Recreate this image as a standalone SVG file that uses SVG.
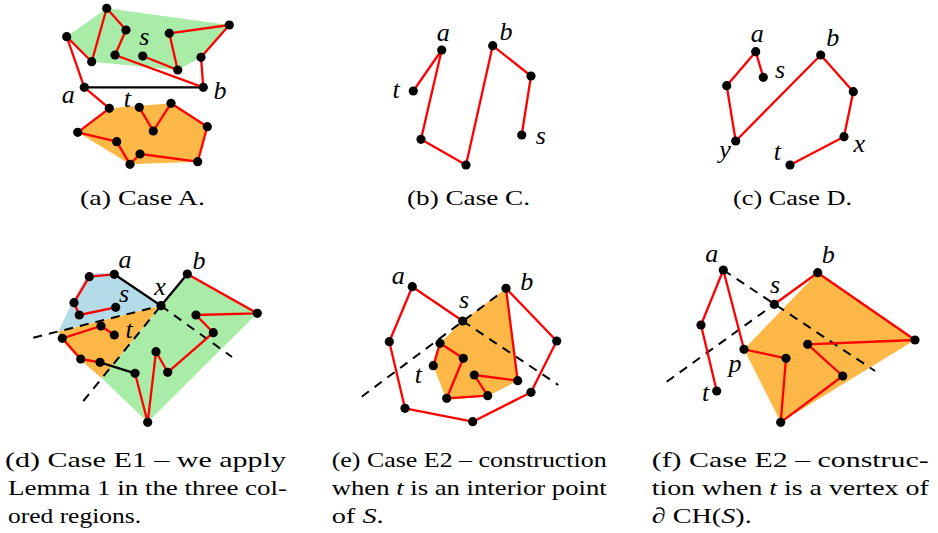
<svg xmlns="http://www.w3.org/2000/svg" width="938" height="533" viewBox="0 0 938 533">
<style>
.r{stroke:#ff0000;stroke-width:2.3;fill:none;stroke-linejoin:round;stroke-linecap:round}
.k{stroke:#000;stroke-width:2.3;fill:none}
.d{stroke:#000;stroke-width:2;stroke-dasharray:9 7;fill:none}
.v{fill:#000}
.g{fill:#a8eca8}
.o{fill:#feb847}
.b{fill:#b4dbe8}
.lbl{font-family:"Liberation Serif",serif;font-style:italic;font-size:26px;text-anchor:middle}
.cap{font-family:"Liberation Serif",serif;font-size:22px}
.it{font-style:italic}
</style>
<rect width="938" height="533" fill="#fff"/>

<!-- Panel (a) -->
<g id="panel-a">
  <g id="a-regions">
    <polygon class="g" points="66.7,36.7 106.7,8.3 229.3,25 201,57.3 177.7,70 91.7,61.7"/>
    <polygon class="o" points="109.3,108.3 171,103.3 207.3,126.7 197.7,161.7 130,164.3 77.7,132.3"/>
  </g>
  <g id="a-connectors">
    <line class="k" x1="84.3" y1="87.3" x2="203.3" y2="87.3"/>
    <polyline class="r" points="142.7,56 177.7,70 169.3,33.3 229.3,25 201,57.3 203.3,87.3 115,55 126,30 106.7,8.3 91.7,61.7 66.7,36.7 84.3,87.3"/>
    <polyline class="r" points="84.3,87.3 109.3,108.3 77.7,132.3 116.7,141.7 130,164.3 140,154 197.7,161.7 207.3,126.7 171,103.3 153.3,131 139.3,107.3"/>
  </g>
  <g id="a-nodes">
    <circle class="v" r="4.6" cx="66.7" cy="36.7"/><circle class="v" r="4.6" cx="106.7" cy="8.3"/>
    <circle class="v" r="4.6" cx="126" cy="30"/><circle class="v" r="4.6" cx="115" cy="55"/>
    <circle class="v" r="4.6" cx="91.7" cy="61.7"/><circle class="v" r="4.6" cx="142.7" cy="56"/>
    <circle class="v" r="4.6" cx="177.7" cy="70"/><circle class="v" r="4.6" cx="169.3" cy="33.3"/>
    <circle class="v" r="4.6" cx="229.3" cy="25"/><circle class="v" r="4.6" cx="201" cy="57.3"/>
    <circle class="v" r="4.6" cx="203.3" cy="87.3"/><circle class="v" r="4.6" cx="84.3" cy="87.3"/>
    <circle class="v" r="4.6" cx="109.3" cy="108.3"/><circle class="v" r="4.6" cx="77.7" cy="132.3"/>
    <circle class="v" r="4.6" cx="116.7" cy="141.7"/><circle class="v" r="4.6" cx="130" cy="164.3"/>
    <circle class="v" r="4.6" cx="140" cy="154"/><circle class="v" r="4.6" cx="197.7" cy="161.7"/>
    <circle class="v" r="4.6" cx="207.3" cy="126.7"/><circle class="v" r="4.6" cx="171" cy="103.3"/>
    <circle class="v" r="4.6" cx="153.3" cy="131"/><circle class="v" r="4.6" cx="139.3" cy="107.3"/>
  </g>
  <g id="a-labels">
    <text class="lbl" x="144.3" y="45">s</text>
    <text class="lbl" x="68.3" y="103.3">a</text>
    <text class="lbl" x="220" y="99.3">b</text>
    <text class="lbl" x="127.3" y="107.3">t</text>
  </g>
  <text class="cap" x="80" y="205" textLength="125" lengthAdjust="spacingAndGlyphs">(a) Case A.</text>
</g>

<!-- Panel (b) -->
<g id="panel-b">
  <g id="b-connectors">
    <polyline class="r" points="413.3,91 441.7,50 421,139.3 466,165 492.7,45.7 531,76 521.7,135"/>
  </g>
  <g id="b-nodes">
    <circle class="v" r="4.6" cx="413.3" cy="91"/><circle class="v" r="4.6" cx="441.7" cy="50"/>
    <circle class="v" r="4.6" cx="421" cy="139.3"/><circle class="v" r="4.6" cx="466" cy="165"/>
    <circle class="v" r="4.6" cx="492.7" cy="45.7"/><circle class="v" r="4.6" cx="531" cy="76"/>
    <circle class="v" r="4.6" cx="521.7" cy="135"/>
  </g>
  <g id="b-labels">
    <text class="lbl" x="443.3" y="41">a</text>
    <text class="lbl" x="506" y="40">b</text>
    <text class="lbl" x="396" y="97.7">t</text>
    <text class="lbl" x="540.7" y="144.3">s</text>
  </g>
  <text class="cap" x="407" y="205" textLength="123" lengthAdjust="spacingAndGlyphs">(b) Case C.</text>
</g>

<!-- Panel (c) -->
<g id="panel-c">
  <g id="c-connectors">
    <polyline class="r" points="763.3,77.3 755.7,51.7 726.7,85.7 735.7,141 820.7,55 853.3,91.7 844,136.7 790,165"/>
  </g>
  <g id="c-nodes">
    <circle class="v" r="4.6" cx="763.3" cy="77.3"/><circle class="v" r="4.6" cx="755.7" cy="51.7"/>
    <circle class="v" r="4.6" cx="726.7" cy="85.7"/><circle class="v" r="4.6" cx="735.7" cy="141"/>
    <circle class="v" r="4.6" cx="820.7" cy="55"/><circle class="v" r="4.6" cx="853.3" cy="91.7"/>
    <circle class="v" r="4.6" cx="844" cy="136.7"/><circle class="v" r="4.6" cx="790" cy="165"/>
  </g>
  <g id="c-labels">
    <text class="lbl" x="757.3" y="41.7">a</text>
    <text class="lbl" x="780" y="78.3">s</text>
    <text class="lbl" x="832.7" y="45.7">b</text>
    <text class="lbl" x="725" y="158.3">y</text>
    <text class="lbl" x="777.3" y="160">t</text>
    <text class="lbl" x="859.3" y="151.7">x</text>
  </g>
  <text class="cap" x="733" y="205" textLength="119" lengthAdjust="spacingAndGlyphs">(c) Case D.</text>
</g>

<!-- Panel (d) -->
<g id="panel-d">
  <g id="d-regions">
    <polygon class="b" points="58.3,331.4 71.7,303.3 88.3,273.3 115,273.3 161,305.7"/>
    <polygon class="o" points="58.3,331.4 161,305.7 101.8,378.3 78.3,358.3 61.7,340"/>
    <polygon class="g" points="161,305.7 187.3,273.3 257.3,313.3 147.7,422.3 101.8,378.3"/>
  </g>
  <g id="d-connectors">
    <line class="d" x1="33.3" y1="337.7" x2="161" y2="305.7"/>
    <line class="d" x1="83.3" y1="401" x2="161" y2="305.7"/>
    <line class="d" x1="161" y1="305.7" x2="232" y2="357"/>
    <polyline class="r" points="115.7,307.3 79.3,315 74,302.7 89.3,276.7 114.3,274.3"/>
    <polyline class="k" points="114.3,274.3 161,305.7 187.3,274"/>
    <polyline class="r" points="187.3,274 257.3,313.3 196,315 213.3,332.7 167.7,372.3 156,351.7 147.7,422.3 135,373.3"/>
    <line class="k" x1="135" y1="373.3" x2="100" y2="362.3"/>
    <polyline class="r" points="100,362.3 80.7,359 62.3,338.3 101,326 114.3,335"/>
  </g>
  <g id="d-nodes">
    <circle class="v" r="4.6" cx="115.7" cy="307.3"/><circle class="v" r="4.6" cx="79.3" cy="315"/>
    <circle class="v" r="4.6" cx="74" cy="302.7"/><circle class="v" r="4.6" cx="89.3" cy="276.7"/>
    <circle class="v" r="4.6" cx="114.3" cy="274.3"/><circle class="v" r="4.6" cx="161" cy="305.7"/>
    <circle class="v" r="4.6" cx="187.3" cy="274"/><circle class="v" r="4.6" cx="257.3" cy="313.3"/>
    <circle class="v" r="4.6" cx="196" cy="315"/><circle class="v" r="4.6" cx="213.3" cy="332.7"/>
    <circle class="v" r="4.6" cx="167.7" cy="372.3"/><circle class="v" r="4.6" cx="156" cy="351.7"/>
    <circle class="v" r="4.6" cx="147.7" cy="422.3"/><circle class="v" r="4.6" cx="135" cy="373.3"/>
    <circle class="v" r="4.6" cx="100" cy="362.3"/><circle class="v" r="4.6" cx="80.7" cy="359"/>
    <circle class="v" r="4.6" cx="62.3" cy="338.3"/><circle class="v" r="4.6" cx="101" cy="326"/>
    <circle class="v" r="4.6" cx="114.3" cy="335"/>
  </g>
  <g id="d-labels">
    <text class="lbl" x="125" y="268.3">a</text>
    <text class="lbl" x="199" y="269">b</text>
    <text class="lbl" x="160" y="295">x</text>
    <text class="lbl" x="124" y="301.7">s</text>
    <text class="lbl" x="129" y="337.7">t</text>
  </g>
  <text class="cap" x="5" y="467" textLength="281" lengthAdjust="spacingAndGlyphs">(d) Case E1 – we apply</text>
  <text class="cap" x="8" y="495" textLength="279" lengthAdjust="spacingAndGlyphs">Lemma 1 in the three col-</text>
  <text class="cap" x="8" y="523" textLength="133" lengthAdjust="spacingAndGlyphs">ored regions.</text>
</g>

<!-- Panel (e) -->
<g id="panel-e">
  <g id="e-regions">
    <polygon class="o" points="462.7,321 506,288.3 517.7,380.7 488,396 446.7,400 433.3,365.7 440,343.3"/>
  </g>
  <g id="e-connectors">
    <line class="d" x1="361.7" y1="396.7" x2="502" y2="292"/>
    <line class="d" x1="462.7" y1="321" x2="558.3" y2="385"/>
    <polyline class="r" points="462.7,321 412.3,286.7 389.3,341.7 405,408.3 472.7,421.7 531,392.3 556.7,341 506,288.3 517.7,380.7 474.3,375 487.7,395.7 446.7,398.3 463.3,358.3 440,343.3 433.3,365.7"/>
  </g>
  <g id="e-nodes">
    <circle class="v" r="4.6" cx="412.3" cy="286.7"/><circle class="v" r="4.6" cx="462.7" cy="321"/>
    <circle class="v" r="4.6" cx="506" cy="288.3"/><circle class="v" r="4.6" cx="556.7" cy="341"/>
    <circle class="v" r="4.6" cx="531" cy="392.3"/><circle class="v" r="4.6" cx="472.7" cy="421.7"/>
    <circle class="v" r="4.6" cx="405" cy="408.3"/><circle class="v" r="4.6" cx="389.3" cy="341.7"/>
    <circle class="v" r="4.6" cx="440" cy="343.3"/><circle class="v" r="4.6" cx="463.3" cy="358.3"/>
    <circle class="v" r="4.6" cx="433.3" cy="365.7"/><circle class="v" r="4.6" cx="446.7" cy="398.3"/>
    <circle class="v" r="4.6" cx="487.7" cy="395.7"/><circle class="v" r="4.6" cx="474.3" cy="375"/>
    <circle class="v" r="4.6" cx="517.7" cy="380.7"/>
  </g>
  <g id="e-labels">
    <text class="lbl" x="398.3" y="284.3">a</text>
    <text class="lbl" x="526.7" y="290">b</text>
    <text class="lbl" x="464" y="308.3">s</text>
    <text class="lbl" x="418.3" y="383.3">t</text>
  </g>
  <text class="cap" x="331.7" y="467" textLength="275" lengthAdjust="spacingAndGlyphs">(e) Case E2 – construction</text>
  <text class="cap" x="331.7" y="495" textLength="275" lengthAdjust="spacingAndGlyphs">when <tspan class="it">t</tspan> is an interior point</text>
  <text class="cap" x="331.7" y="523" textLength="52" lengthAdjust="spacingAndGlyphs">of <tspan class="it">S</tspan>.</text>
</g>

<!-- Panel (f) -->
<g id="panel-f">
  <g id="f-regions">
    <polygon class="o" points="744,349.3 817.7,272.7 915,340 780.7,422.3"/>
  </g>
  <g id="f-connectors">
    <line class="d" x1="666.7" y1="381.7" x2="774.3" y2="304.3"/>
    <line class="d" x1="723.3" y1="270" x2="875" y2="371"/>
    <polyline class="r" points="716.7,391 701,325 723.3,270 744,349.3 786,358.3 780.7,422.3 842.7,376 807.7,344.3 915,340 817.7,272.7 774.3,304.3"/>
  </g>
  <g id="f-nodes">
    <circle class="v" r="4.6" cx="723.3" cy="270"/><circle class="v" r="4.6" cx="701" cy="325"/>
    <circle class="v" r="4.6" cx="716.7" cy="391"/><circle class="v" r="4.6" cx="744" cy="349.3"/>
    <circle class="v" r="4.6" cx="774.3" cy="304.3"/><circle class="v" r="4.6" cx="817.7" cy="272.7"/>
    <circle class="v" r="4.6" cx="915" cy="340"/><circle class="v" r="4.6" cx="807.7" cy="344.3"/>
    <circle class="v" r="4.6" cx="842.7" cy="376"/><circle class="v" r="4.6" cx="780.7" cy="422.3"/>
    <circle class="v" r="4.6" cx="786" cy="358.3"/>
  </g>
  <g id="f-labels">
    <text class="lbl" x="711.7" y="261.7">a</text>
    <text class="lbl" x="828.3" y="263.3">b</text>
    <text class="lbl" x="775" y="293.3">s</text>
    <text class="lbl" x="735" y="371.7">p</text>
    <text class="lbl" x="705.7" y="401">t</text>
  </g>
  <text class="cap" x="651.7" y="467" textLength="277" lengthAdjust="spacingAndGlyphs">(f) Case E2 – construc-</text>
  <text class="cap" x="651.7" y="495" textLength="277" lengthAdjust="spacingAndGlyphs">tion when <tspan class="it">t</tspan> is a vertex of</text>
  <text class="cap" x="651.7" y="523" textLength="100" lengthAdjust="spacingAndGlyphs"><tspan class="it">∂</tspan> CH(<tspan class="it">S</tspan>).</text>
</g>
</svg>
